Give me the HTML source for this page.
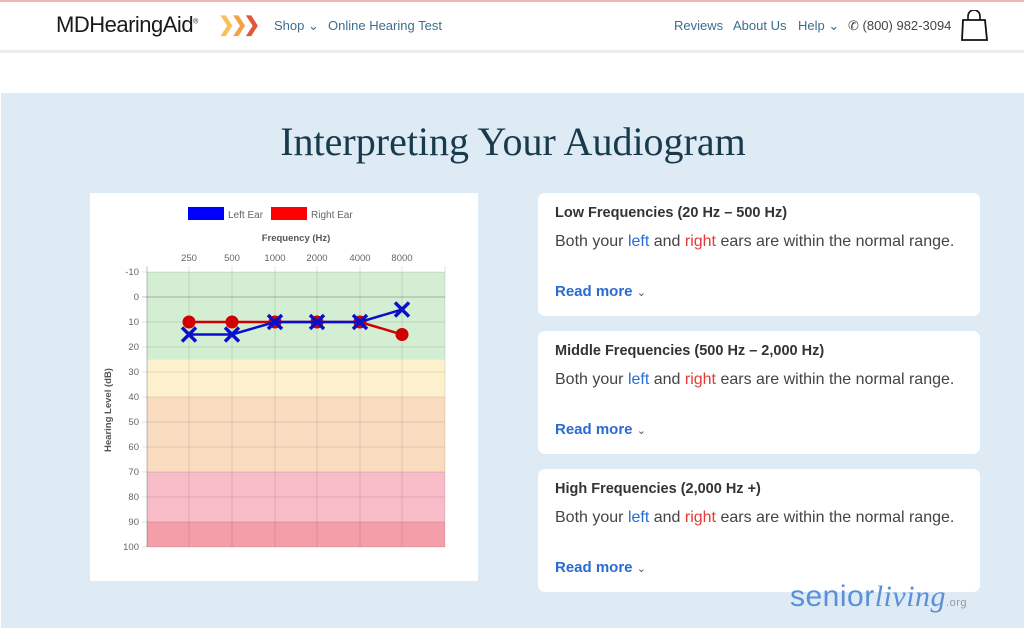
<!DOCTYPE html>
<html><head><meta charset="utf-8"><style>
*{margin:0;padding:0;box-sizing:border-box}
body{width:1024px;height:630px;position:relative;background:#fff;font-family:"Liberation Sans",sans-serif;overflow:hidden}
.a{position:absolute}
.nav{color:#3b6e8f;font-size:13px;white-space:nowrap}
.card{position:absolute;left:538px;width:442px;height:123px;background:#fff;border-radius:7px}
.card h3{position:absolute;left:17px;top:12px;font-size:14.5px;font-weight:bold;color:#333}
.card p{position:absolute;left:17px;top:40px;font-size:16px;color:#444;white-space:nowrap}
.card .r{position:absolute;left:17px;top:90px;font-size:15px;font-weight:bold;color:#2a6bd1}
.l{color:#2a6bd1}.rt{color:#e53935}
</style></head><body>
<div class="a" style="left:0;top:0;width:1024px;height:2px;background:#f5b5b5"></div>
<div class="a" style="left:0;top:50px;width:1024px;height:3px;background:#ececec"></div>
<div class="a" style="left:56px;top:12px;font-size:22px;color:#1a1a1a;letter-spacing:-0.5px">MDHearingAid<sup style="font-size:7px">®</sup></div>
<div class="a" style="left:218px;top:12px;font-size:20px;font-weight:bold;letter-spacing:-4px"><span style="color:#f7c25a">❯</span><span style="color:#f4a24a">❯</span><span style="color:#e1553a">❯</span></div>
<div class="a nav" style="left:274px;top:18px">Shop ⌄</div>
<div class="a nav" style="left:328px;top:18px">Online Hearing Test</div>
<div class="a nav" style="left:674px;top:18px">Reviews</div>
<div class="a nav" style="left:733px;top:18px">About Us</div>
<div class="a nav" style="left:798px;top:18px">Help ⌄</div>
<div class="a" style="left:848px;top:18px;font-size:13px;color:#444">✆ (800) 982-3094</div>
<svg class="a" style="left:960px;top:10px" width="30" height="32"><path d="M8 10 V6 a6 6 0 0 1 12 0 V10" fill="none" stroke="#111" stroke-width="1.6"/><path d="M3 10 H25 L27 30 H2 Z" fill="none" stroke="#111" stroke-width="1.8"/></svg>
<div class="a" style="left:1px;top:93px;width:1023px;height:535px;background:#deebf5"></div>
<div class="a" style="left:0;top:118px;width:1024px;text-align:center;font-family:'Liberation Serif',serif;font-size:40px;color:#173a4d;padding-left:2px">Interpreting Your Audiogram</div>
<div class="a" style="left:90px;top:193px;width:388px;height:388px;background:#fff"></div>
<svg class="a" style="left:0;top:0" width="1024" height="630" font-family="Liberation Sans, sans-serif">
<rect x="188" y="207" width="36" height="13" fill="#0000ff"/>
<text x="228" y="218" font-size="10" fill="#666">Left Ear</text>
<rect x="271" y="207" width="36" height="13" fill="#ff0000"/>
<text x="311" y="218" font-size="10" fill="#666">Right Ear</text>
<text x="296" y="241" font-size="9.5" font-weight="bold" fill="#555" text-anchor="middle">Frequency (Hz)</text>
<g font-size="9.5" fill="#666" text-anchor="middle">
<text x="189" y="261">250</text><text x="232" y="261">500</text><text x="275" y="261">1000</text><text x="317" y="261">2000</text><text x="360" y="261">4000</text><text x="402" y="261">8000</text></g>
<rect x="147" y="272" width="298" height="87.5" fill="#d3eed3"/>
<rect x="147" y="359.5" width="298" height="37.5" fill="#fdf0cc"/>
<rect x="147" y="397" width="298" height="75" fill="#f9dbc0"/>
<rect x="147" y="472" width="298" height="50" fill="#f7bcc8"/>
<rect x="147" y="522" width="298" height="25" fill="#f49ea9"/>
<g stroke="rgba(0,0,0,0.1)" stroke-width="1">
<line x1="189" y1="266" x2="189" y2="547"/><line x1="232" y1="266" x2="232" y2="547"/><line x1="275" y1="266" x2="275" y2="547"/><line x1="317" y1="266" x2="317" y2="547"/><line x1="360" y1="266" x2="360" y2="547"/><line x1="402" y1="266" x2="402" y2="547"/><line x1="445" y1="266" x2="445" y2="547"/>
<line x1="142" y1="272" x2="445" y2="272"/><line x1="142" y1="297" x2="445" y2="297" stroke="rgba(0,0,0,0.25)"/><line x1="142" y1="322" x2="445" y2="322"/><line x1="142" y1="347" x2="445" y2="347"/><line x1="142" y1="372" x2="445" y2="372"/><line x1="142" y1="397" x2="445" y2="397"/><line x1="142" y1="422" x2="445" y2="422"/><line x1="142" y1="447" x2="445" y2="447"/><line x1="142" y1="472" x2="445" y2="472"/><line x1="142" y1="497" x2="445" y2="497"/><line x1="142" y1="522" x2="445" y2="522"/><line x1="142" y1="547" x2="445" y2="547"/>
</g>
<line x1="147" y1="266" x2="147" y2="547" stroke="rgba(0,0,0,0.25)"/>
<g font-size="9.5" fill="#666" text-anchor="end">
<text x="139" y="275">-10</text><text x="139" y="300">0</text><text x="139" y="325">10</text><text x="139" y="350">20</text><text x="139" y="375">30</text><text x="139" y="400">40</text><text x="139" y="425">50</text><text x="139" y="450">60</text><text x="139" y="475">70</text><text x="139" y="500">80</text><text x="139" y="525">90</text><text x="139" y="550">100</text></g>
<text transform="translate(111,410) rotate(-90)" font-size="9.5" font-weight="bold" fill="#555" text-anchor="middle">Hearing Level (dB)</text>
<polyline points="189,322 232,322 275,322 317,322 360,322 402,334.5" fill="none" stroke="#d00000" stroke-width="2.5"/>
<g fill="#d00000"><circle cx="189" cy="322" r="6.5"/><circle cx="232" cy="322" r="6.5"/><circle cx="275" cy="322" r="6.5"/><circle cx="317" cy="322" r="6.5"/><circle cx="360" cy="322" r="6.5"/><circle cx="402" cy="334.5" r="6.5"/></g>
<polyline points="189,334.5 232,334.5 275,322 317,322 360,322 402,309.5" fill="none" stroke="#0a10c8" stroke-width="2.5"/>
<g stroke="#0a10c8" stroke-width="3.4">
<path d="M182 327.5l14 14M196 327.5l-14 14"/><path d="M225 327.5l14 14M239 327.5l-14 14"/><path d="M268 315l14 14M282 315l-14 14"/><path d="M310 315l14 14M324 315l-14 14"/><path d="M353 315l14 14M367 315l-14 14"/><path d="M395 302.5l14 14M409 302.5l-14 14"/></g>
</svg>
<div class="card" style="top:193px"><h3>Low Frequencies (20 Hz – 500 Hz)</h3><p>Both your <span class="l">left</span> and <span class="rt">right</span> ears are within the normal range.</p><div class="r">Read more <span style="font-weight:normal;font-size:11px;color:#555">⌄</span></div></div>
<div class="card" style="top:331px"><h3>Middle Frequencies (500 Hz – 2,000 Hz)</h3><p>Both your <span class="l">left</span> and <span class="rt">right</span> ears are within the normal range.</p><div class="r">Read more <span style="font-weight:normal;font-size:11px;color:#555">⌄</span></div></div>
<div class="card" style="top:469px"><h3>High Frequencies (2,000 Hz +)</h3><p>Both your <span class="l">left</span> and <span class="rt">right</span> ears are within the normal range.</p><div class="r">Read more <span style="font-weight:normal;font-size:11px;color:#555">⌄</span></div></div>
<div class="a" style="left:790px;top:580px;font-size:30px;color:#5b8fd8;letter-spacing:0.5px">senior<i style="font-family:'Liberation Serif',serif">living</i><span style="font-size:11px;color:#999">.org</span></div>
</body></html>
